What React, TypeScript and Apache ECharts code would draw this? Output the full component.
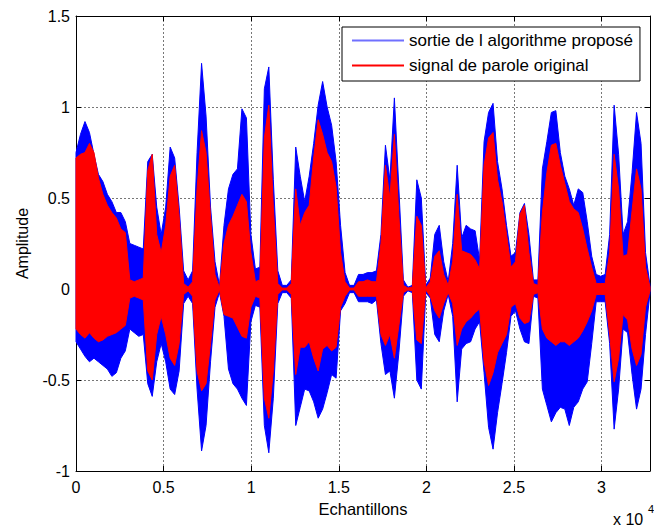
import React, { useEffect, useRef } from "react";
import * as echarts from "echarts";

// Speech waveform envelopes, one value per block of BIN samples (block i starts at i*BIN)
const BIN = 256;
const blueMax = [
  0.75, 0.85, 0.92, 0.86, 0.74, 0.63, 0.59, 0.52, 0.48, 0.42, 0.42, 0.37, 0.25, 0.24, 0.23, 0.22,
  0.70, 0.74, 0.45, 0.30, 0.45, 0.78, 0.72, 0.45, 0.10, 0.05, 0.10, 0.75, 1.24, 0.95, 0.45, 0.15,
  0.02, 0.35, 0.55, 0.63, 0.66, 0.99, 0.94, 0.30, 0.11, 0.12, 1.10, 1.22, 0.60, 0.10, 0.02, 0.02,
  0.05, 0.78, 0.62, 0.48, 0.62, 0.80, 1.01, 1.14, 1.00, 0.90, 0.70, 0.35, 0.09, 0.02, 0.02, 0.08,
  0.08, 0.09, 0.09, 0.10, 0.30, 0.79, 0.60, 1.05, 0.55, 0.05, 0.01, 0.02, 0.60, 0.50, 0.02, 0.06,
  0.30, 0.35, 0.15, 0.04, 0.25, 0.68, 0.28, 0.35, 0.33, 0.32, 0.16, 0.81, 0.97, 1.02, 0.70, 0.55,
  0.35, 0.18, 0.20, 0.42, 0.47, 0.30, 0.05, 0.05, 0.66, 0.81, 0.97, 0.98, 0.75, 0.62, 0.55, 0.46,
  0.55, 0.53, 0.37, 0.18, 0.08, 0.07, 0.08, 0.30, 1.01, 0.74, 0.30, 0.37, 0.64, 0.97, 0.80, 0.20,
  0.02,
];
const blueMin = [
  -0.29, -0.33, -0.37, -0.40, -0.38, -0.40, -0.42, -0.44, -0.48, -0.46, -0.38, -0.34, -0.22, -0.24, -0.26, -0.25,
  -0.52, -0.59, -0.40, -0.30, -0.40, -0.55, -0.58, -0.45, -0.08, -0.04, -0.08, -0.55, -0.89, -0.75, -0.40, -0.10,
  -0.02, -0.15, -0.44, -0.52, -0.55, -0.60, -0.64, -0.18, -0.09, -0.10, -0.75, -0.90, -0.60, -0.08, -0.02, -0.02,
  -0.05, -0.75, -0.65, -0.55, -0.56, -0.62, -0.71, -0.66, -0.57, -0.47, -0.49, -0.12, -0.08, -0.02, -0.02, -0.07,
  -0.07, -0.07, -0.08, -0.06, -0.30, -0.47, -0.45, -0.60, -0.35, -0.04, -0.01, -0.02, -0.50, -0.55, -0.02, -0.05,
  -0.25, -0.29, -0.12, -0.03, -0.15, -0.62, -0.33, -0.30, -0.29, -0.22, -0.18, -0.46, -0.76, -0.88, -0.68, -0.52,
  -0.35, -0.15, -0.12, -0.22, -0.29, -0.30, -0.04, -0.05, -0.55, -0.64, -0.73, -0.68, -0.65, -0.66, -0.75, -0.65,
  -0.62, -0.55, -0.51, -0.30, -0.07, -0.07, -0.07, -0.30, -0.77, -0.55, -0.22, -0.24, -0.47, -0.66, -0.55, -0.25,
  -0.02,
];
const redMax = [
  0.72, 0.74, 0.75, 0.80, 0.75, 0.61, 0.52, 0.46, 0.42, 0.39, 0.33, 0.31, 0.05, 0.04, 0.05, 0.06,
  0.65, 0.74, 0.30, 0.20, 0.35, 0.62, 0.68, 0.40, 0.03, 0.01, 0.04, 0.55, 0.87, 0.75, 0.40, 0.08,
  0.005, 0.25, 0.35, 0.40, 0.46, 0.52, 0.48, 0.20, 0.04, 0.05, 0.83, 1.01, 0.45, 0.03, 0.005, 0.005,
  0.03, 0.55, 0.35, 0.42, 0.46, 0.72, 0.93, 0.85, 0.75, 0.70, 0.56, 0.20, 0.04, 0.005, 0.005, 0.04,
  0.04, 0.05, 0.04, 0.04, 0.25, 0.68, 0.50, 0.85, 0.40, 0.02, 0.005, 0.01, 0.40, 0.35, 0.005, 0.04,
  0.18, 0.21, 0.08, 0.02, 0.15, 0.52, 0.21, 0.20, 0.19, 0.16, 0.11, 0.68, 0.83, 0.86, 0.60, 0.48,
  0.30, 0.12, 0.15, 0.41, 0.46, 0.20, 0.03, 0.02, 0.42, 0.64, 0.79, 0.80, 0.68, 0.58, 0.48, 0.44,
  0.42, 0.33, 0.22, 0.12, 0.03, 0.03, 0.03, 0.20, 0.74, 0.55, 0.18, 0.19, 0.43, 0.66, 0.55, 0.12,
  0.01,
];
const redMin = [
  -0.22, -0.25, -0.27, -0.24, -0.27, -0.29, -0.28, -0.26, -0.25, -0.24, -0.22, -0.20, -0.05, -0.04, -0.05, -0.06,
  -0.45, -0.50, -0.25, -0.15, -0.25, -0.38, -0.42, -0.30, -0.03, -0.01, -0.04, -0.45, -0.56, -0.52, -0.30, -0.06,
  -0.005, -0.14, -0.15, -0.16, -0.21, -0.26, -0.27, -0.10, -0.04, -0.05, -0.60, -0.71, -0.45, -0.03, -0.005, -0.005,
  -0.03, -0.47, -0.32, -0.32, -0.29, -0.38, -0.45, -0.33, -0.31, -0.34, -0.32, -0.10, -0.04, -0.005, -0.005, -0.04,
  -0.04, -0.04, -0.04, -0.04, -0.25, -0.31, -0.25, -0.38, -0.20, -0.02, -0.005, -0.01, -0.28, -0.30, -0.005, -0.04,
  -0.12, -0.16, -0.08, -0.02, -0.08, -0.31, -0.22, -0.18, -0.16, -0.13, -0.11, -0.40, -0.53, -0.46, -0.35, -0.30,
  -0.25, -0.10, -0.08, -0.16, -0.19, -0.18, -0.03, -0.02, -0.22, -0.27, -0.29, -0.31, -0.29, -0.29, -0.31, -0.29,
  -0.27, -0.23, -0.18, -0.12, -0.03, -0.03, -0.03, -0.25, -0.51, -0.38, -0.14, -0.17, -0.33, -0.42, -0.36, -0.10,
  -0.01,
];

const xTickLabels = ["0", "0.5", "1", "1.5", "2", "2.5", "3"];
const seriesNames = ["sortie de l algorithme proposé", "signal de parole original"];

const FONT = "'Liberation Sans', Arial, sans-serif";

function envelopeSeries(name: string, color: string, maxArr: number[], minArr: number[]) {
  const data = maxArr.map((v, i) => [i * BIN, v, minArr[i]]);
  return {
    type: "custom",
    name,
    xAxisIndex: 0,
    yAxisIndex: 0,
    encode: { x: 0, y: [1, 2] },
    data,
    itemStyle: { color },
    renderItem: (params: any, api: any) => {
      if (params.dataIndex !== 0) return null;
      const pts: number[][] = [];
      for (let i = 0; i < maxArr.length; i++) pts.push(api.coord([i * BIN, maxArr[i]]));
      for (let i = minArr.length - 1; i >= 0; i--) pts.push(api.coord([i * BIN, minArr[i]]));
      return {
        type: "polygon",
        shape: { points: pts },
        style: { fill: color, stroke: color, lineWidth: 1 },
      };
    },
  };
}

export default function App() {
  const ref = useRef<HTMLDivElement>(null);
  useEffect(() => {
    if (!ref.current) return;
    const chart = echarts.init(ref.current, null, { renderer: "svg" });
    const axisCommon = {
      axisLine: { show: true, onZero: false, lineStyle: { color: "#000", width: 1 } },
      axisTick: { show: true, inside: true, length: 5, lineStyle: { color: "#000" } },
    };
    const gridLine = { show: true, lineStyle: { color: "#555", type: [2, 2], width: 1, opacity: 0.8 } };
    chart.setOption({
      animation: false,
      backgroundColor: "#fff",
      textStyle: { fontFamily: FONT },
      grid: { left: 76, top: 16, right: 4, bottom: 57, containLabel: false },
      legend: {
        orient: "vertical",
        left: 342,
        top: 27,
        padding: [4, 7, 6, 10],
        itemGap: 6,
        itemWidth: 52,
        itemHeight: 2,
        backgroundColor: "#fff",
        borderColor: "#000",
        borderWidth: 1,
        borderRadius: 0,
        textStyle: { fontFamily: FONT, fontSize: 17, color: "#000", lineHeight: 19 },
        data: [
          { name: seriesNames[0], icon: "rect", itemStyle: { color: "#7070ff" } },
          { name: seriesNames[1], icon: "rect", itemStyle: { color: "#ff0000" } },
        ],
        selectedMode: false,
      },
      xAxis: [
        {
          type: "value",
          min: 0,
          max: 32768,
          interval: 5000,
          ...axisCommon,
          name: "Echantillons",
          nameLocation: "middle",
          nameGap: 29,
          nameTextStyle: { fontFamily: FONT, fontSize: 16.5, color: "#000" },
          axisLabel: {
            fontFamily: FONT,
            fontSize: 16,
            color: "#000",
            margin: 8,
            showMaxLabel: false,
            formatter: (v: number) => {
              const idx = Math.round(v / 5000);
              return Math.abs(v - idx * 5000) < 1e-6 && idx < xTickLabels.length ? xTickLabels[idx] : "";
            },
          },
          splitLine: gridLine,
        },
        {
          type: "value",
          position: "top",
          min: 0,
          max: 32768,
          interval: 5000,
          ...axisCommon,
          axisLabel: { show: false },
          splitLine: { show: false },
        },
      ],
      yAxis: [
        {
          type: "value",
          min: -1,
          max: 1.5,
          interval: 0.5,
          ...axisCommon,
          name: "Amplitude",
          nameLocation: "middle",
          nameGap: 46,
          nameTextStyle: { fontFamily: FONT, fontSize: 16, color: "#000" },
          axisLabel: { fontFamily: FONT, fontSize: 16, color: "#000", margin: 6 },
          splitLine: gridLine,
        },
        {
          type: "value",
          position: "right",
          min: -1,
          max: 1.5,
          interval: 0.5,
          ...axisCommon,
          axisLabel: { show: false },
          splitLine: { show: false },
        },
      ],
      graphic: [
        {
          type: "text",
          left: 613,
          top: 511,
          style: { text: "x 10", fontFamily: FONT, fontSize: 16, fill: "#000" },
        },
        {
          type: "text",
          left: 648,
          top: 503,
          style: { text: "4", fontFamily: FONT, fontSize: 11, fill: "#000" },
        },
      ],
      series: [
        envelopeSeries(seriesNames[0], "#0000ff", blueMax, blueMin),
        envelopeSeries(seriesNames[1], "#ff0000", redMax, redMin),
      ],
    });
    return () => chart.dispose();
  }, []);
  return (
    <div
      ref={ref}
      style={{ position: "absolute", left: 0, top: 0, width: 654, height: 528, background: "#fff" }}
    />
  );
}
